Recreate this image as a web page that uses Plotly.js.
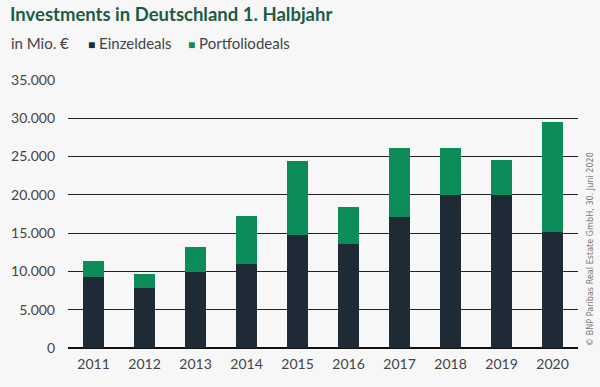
<!DOCTYPE html>
<html>
<head>
<meta charset="utf-8">
<script src="https://cdn.plot.ly/plotly-3.0.1.min.js"></script>
<style>html,body{margin:0;padding:0;background:#f7f7f7;}#chart{width:600px;height:387px;}</style>
</head>
<body>
<div id="chart"></div>
<script>
const years = ['2011','2012','2013','2014','2015','2016','2017','2018','2019','2020'];
const einzeldeals = [9300, 7800, 9900, 11000, 14700, 13600, 17100, 20000, 20000, 15100];
const portfoliodeals = [2000, 1900, 3300, 6300, 9700, 4800, 9000, 6100, 4500, 14400];
const yTicks = [0, 5000, 10000, 15000, 20000, 25000, 30000, 35000];

const colEinzel = '#1e2b36';
const colPortfolio = '#0b8c59';
const font = 'Lato, "Open Sans", sans-serif';

const traces = [
  {type: 'bar', name: 'Einzeldeals', x: years, y: einzeldeals, marker: {color: colEinzel}, showlegend: false, hoverinfo: 'x+y+name'},
  {type: 'bar', name: 'Portfoliodeals', x: years, y: portfoliodeals, marker: {color: colPortfolio}, showlegend: false, hoverinfo: 'x+y+name'}
];

const layout = {
  width: 600, height: 387,
  paper_bgcolor: '#f7f7f7', plot_bgcolor: '#f7f7f7',
  barmode: 'stack', bargap: 0.6,
  separators: ',.',
  margin: {l: 68, r: 22, t: 80, b: 39},
  font: {family: font, color: '#444'},
  xaxis: {
    type: 'category', showgrid: false, showline: false, zeroline: false,
    tickfont: {size: 14, color: '#444', family: font}, ticks: '', ticklabelstandoff: 6
  },
  yaxis: {
    range: [0, 35000], tickvals: yTicks, tickformat: ',d',
    showgrid: true, gridcolor: '#222', gridwidth: 1,
    zeroline: true, zerolinecolor: '#111', zerolinewidth: 2,
    tickfont: {size: 14, color: '#444', family: font}, ticklabelstandoff: 12, fixedrange: true
  },
  annotations: [
    {xref: 'paper', yref: 'paper', x: -0.118, y: 1.246, xanchor: 'left', yanchor: 'middle', showarrow: false,
     text: '<b>Investments in Deutschland 1. Halbjahr</b>', font: {size: 18.5, color: '#1d5b45', family: font}},
    {xref: 'paper', yref: 'paper', x: -0.116, y: 1.138, xanchor: 'left', yanchor: 'middle', showarrow: false,
     text: 'in Mio. €', font: {size: 15, color: '#444', family: font}},
    {xref: 'paper', yref: 'paper', x: 0.036, y: 1.138, xanchor: 'left', yanchor: 'middle', showarrow: false,
     text: '<span style="color:' + colEinzel + ';font-size:12px">■</span> Einzeldeals', font: {size: 15, color: '#444', family: font}},
    {xref: 'paper', yref: 'paper', x: 0.232, y: 1.138, xanchor: 'left', yanchor: 'middle', showarrow: false,
     text: '<span style="color:' + colPortfolio + ';font-size:12px">■</span> Portfoliodeals', font: {size: 15, color: '#444', family: font}},
    {xref: 'paper', yref: 'paper', x: 1.0235, y: 0.0, xanchor: 'center', yanchor: 'bottom', showarrow: false, textangle: -90,
     text: '© BNP Paribas Real Estate GmbH, 30. Juni 2020', font: {size: 9, color: '#777', family: '"Liberation Sans Narrow", "DejaVu Sans Condensed", sans-serif'}}
  ]
};

Plotly.newPlot('chart', traces, layout, {displayModeBar: false, staticPlot: true});
</script>
</body>
</html>
